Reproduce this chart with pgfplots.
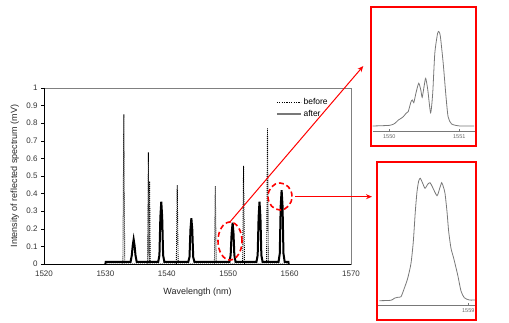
\documentclass[border=0pt]{standalone}
\usepackage{pgfplots}
\pgfplotsset{compat=1.18}
\usetikzlibrary{arrows.meta}
\usepackage{fontspec}
\setmainfont{Liberation Sans}
\definecolor{insetgray}{RGB}{120,120,120}
\begin{document}
\begin{tikzpicture}[x=1pt,y=1pt]
\path[use as bounding box] (0,0) rectangle (509,323);
% ---------------- main axis ----------------
\begin{axis}[
  at={(44pt,59pt)}, anchor=south west, scale only axis,
  width=307pt, height=176pt,
  xmin=1520, xmax=1570, ymin=0, ymax=1,
  xtick={1520,1530,1540,1550,1560,1570},
  ytick={0,0.1,0.2,0.3,0.4,0.5,0.6,0.7,0.8,0.9,1},
  yticklabels={0,0.1,0.2,0.3,0.4,0.5,0.6,0.7,0.8,0.9,1},
  /pgf/number format/assume math mode=true,
  /pgf/number format/set thousands separator={},
  tick label style={font=\fontsize{8}{9}\selectfont, text=black!80},
  xtick style={draw=none},
  ytick style={black}, tick align=outside, major tick length=3pt,
  ytick pos=left,
  axis line style={black!50},
  xlabel={Wavelength (nm)},
  ylabel={Intensity of reflected spectrum (mV)},
  label style={font=\fontsize{9}{10}\selectfont, text=black!85},
  xlabel style={at={(axis description cs:0.5,-0.158)}, anchor=center},
  ylabel style={at={(axis description cs:-0.095,0.5)}, anchor=center},
  legend style={draw=none, fill=none, at={(axis cs:1557.6,0.957)}, anchor=north west,
    font=\fontsize{8.5}{9}\selectfont, row sep=0pt, inner sep=1pt},
  legend cell align=left,
  legend image code/.code={\draw[#1] (0pt,0pt) -- (24pt,0pt);},
  after end axis/.code={
    \draw[black, line width=0.8pt] (rel axis cs:0,1) -- (rel axis cs:0,0) -- (rel axis cs:1,0);
  },
]
\addlegendimage{black, line width=0.8pt, dash pattern=on 1.2pt off 1.2pt}
\addlegendentry{before}
\addlegendimage{insetgray, line width=1.5pt}
\addlegendentry{after}
% before (dotted)
\addplot[black, line width=0.9pt, dash pattern=on 1pt off 1pt, forget plot] coordinates {
(1530,0) (1532.85,0) (1533.0,0.85) (1533.15,0)
(1536.85,0) (1537.0,0.634) (1537.1,0) (1537.2,0.47) (1537.3,0)
(1541.55,0) (1541.7,0.449) (1541.85,0)
(1547.75,0) (1547.9,0.443) (1548.05,0)
(1552.35,0) (1552.5,0.557) (1552.65,0)
(1556.25,0) (1556.4,0.771) (1556.55,0) (1560,0)
};
% after (solid)
\addplot[black, line width=2pt, forget plot] coordinates {
(1530.0,0) (1530.05,0.012)
(1534.1,0.012) (1534.3,0.05) (1534.45,0.105) (1534.6,0.14) (1534.75,0.105) (1534.9,0.05) (1535.1,0.012)
(1538.6,0.012) (1538.8,0.05) (1538.95,0.265) (1539.1,0.354) (1539.25,0.265) (1539.4,0.05) (1539.6,0.012)
(1543.5,0.012) (1543.7,0.04) (1543.85,0.195) (1544.0,0.26) (1544.15,0.195) (1544.3,0.04) (1544.5,0.012)
(1550.2,0.012) (1550.4,0.05) (1550.55,0.17) (1550.72,0.235) (1550.87,0.17) (1551.0,0.05) (1551.2,0.012)
(1554.6,0.012) (1554.8,0.05) (1554.95,0.265) (1555.1,0.354) (1555.25,0.265) (1555.4,0.05) (1555.6,0.012)
(1558.2,0.012) (1558.4,0.06) (1558.55,0.33) (1558.7,0.42) (1558.85,0.33) (1559.0,0.06) (1559.2,0.012)
(1559.8,0.012) (1559.85,0)
};
\end{axis}
% ---------------- inset 1 ----------------
\begin{axis}[
  at={(372.5pt,192pt)}, anchor=south west, scale only axis,
  width=102.2pt, height=105pt,
  xmin=1549.76, xmax=1551.22, ymin=-5, ymax=100,
  axis y line=none, axis x line*=bottom,
  axis line style={insetgray, -},
  xtick={1550,1551},
  /pgf/number format/assume math mode=true,
  /pgf/number format/set thousands separator={},
  tick label style={font=\fontsize{5.5}{6}\selectfont, text=black!60},
  xtick style={insetgray}, tick align=inside, major tick length=2pt,
  clip=false,
]
\addplot[insetgray, line width=0.8pt, smooth, tension=0.4] coordinates {
(1549.763,0) (1550.01,0.7) (1550.08,2.7) (1550.13,6) (1550.16,7.3) (1550.20,9.3)
(1550.24,12.7) (1550.27,14.3) (1550.31,24.3) (1550.33,26) (1550.35,23.3) (1550.38,32.7)
(1550.42,42.7) (1550.45,36) (1550.47,28.7) (1550.50,41) (1550.52,47.7) (1550.55,36)
(1550.59,13.3) (1550.62,32.7) (1550.65,72.7) (1550.69,92.7) (1550.71,94.3) (1550.73,89.3)
(1550.77,62.7) (1550.81,29.3) (1550.84,9.3) (1550.89,2) (1551.01,0) (1551.21,0)
};
\end{axis}
% ---------------- inset 2 ----------------
\begin{axis}[
  at={(378.3pt,18pt)}, anchor=south west, scale only axis,
  width=98pt, height=129pt,
  xmin=1558.10, xmax=1559.08, ymin=-4, ymax=125,
  axis y line=none, axis x line*=bottom,
  axis line style={insetgray, -},
  xtick={1559},
  /pgf/number format/assume math mode=true,
  /pgf/number format/set thousands separator={},
  tick label style={font=\fontsize{5.5}{6}\selectfont, text=black!60},
  xtick style={insetgray}, tick align=inside, major tick length=2pt,
  clip=false,
]
\addplot[insetgray, line width=0.8pt, smooth, tension=0.4] coordinates {
(1558.110,0.3) (1558.227,0.7) (1558.260,2.7) (1558.294,3.7) (1558.327,4.3) (1558.360,12.7)
(1558.394,22.7) (1558.427,37.7) (1558.450,59.3) (1558.470,89.3) (1558.487,109.3) (1558.504,120)
(1558.520,122.7) (1558.544,117.7) (1558.567,112.7) (1558.594,116.7) (1558.617,118.3) (1558.640,114.3)
(1558.687,105.3) (1558.714,112.7) (1558.734,118.3) (1558.750,114.3) (1558.767,107.7) (1558.787,89.3)
(1558.804,69.3) (1558.827,52.7) (1558.854,42.7) (1558.894,26) (1558.927,10) (1558.960,3.3)
(1559.010,1) (1559.084,1)
};
\end{axis}
% ---------------- annotations ----------------
\draw[red, line width=1.6pt] (371,177) rectangle (475.7,315.7);
\draw[red, line width=1.6pt] (376.7,3) rectangle (475.7,160.7);
\draw[red, line width=1.6pt, dash pattern=on 5pt off 3pt] (230,82) ellipse [x radius=12, y radius=19];
\draw[red, line width=1.6pt, dash pattern=on 5pt off 3pt] (280,126.5) ellipse [x radius=12, y radius=13.5];
\draw[red, line width=1pt, -{Stealth[length=6pt,width=5pt]}] (229.3,100.3) -- (363.3,257);
\draw[red, line width=1pt, -{Stealth[length=6pt,width=5pt]}] (295,126.3) -- (372,126.3);
\end{tikzpicture}
\end{document}
